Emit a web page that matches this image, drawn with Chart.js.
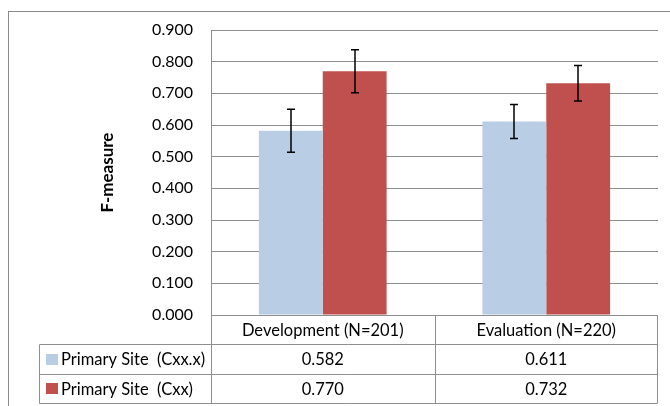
<!DOCTYPE html>
<html>
<head>
<meta charset="utf-8">
<script src="https://cdn.jsdelivr.net/npm/chart.js@4.4.0/dist/chart.umd.min.js"></script>
<style>
  html, body { margin: 0; padding: 0; background: #fff; }
</style>
</head>
<body>
<canvas id="myChart" width="670" height="406"></canvas>
<script>
// data
const categories = ['Development (N=201)', 'Evaluation (N=220)']
const seriesNames = ['Primary Site  (Cxx.x)', 'Primary Site  (Cxx)']
const siteCxxX = [0.582, 0.611]
const siteCxx = [0.770, 0.732]
const siteCxxXErr = [0.068, 0.054]
const siteCxxErr = [0.068, 0.056]
const barColors = ['#B9CDE5', '#C0504D']
const yMin = 0, yMax = 0.9, yStep = 0.1

const gridColor = '#8e8e8e'
const fontFamily = 'Lato, "Open Sans", sans-serif'
const fontSize = 16
const tableFontSize = 16.5

// outer frame + white background
const framePlugin = {
  id: 'frame',
  beforeDraw(chart) {
    const ctx = chart.ctx
    ctx.save()
    ctx.fillStyle = '#fff'
    ctx.fillRect(0, 0, chart.width, chart.height)
    ctx.strokeStyle = '#8a8a8a'
    ctx.lineWidth = 1
    ctx.strokeRect(8.5, 11.5, 800, 600)
    ctx.restore()
  }
}

// error bars, placed with the y scale
const errorBarPlugin = {
  id: 'errorBars',
  afterDatasetsDraw(chart) {
    const ctx = chart.ctx
    const y = chart.scales.y
    const errs = [siteCxxXErr, siteCxxErr]
    ctx.save()
    ctx.strokeStyle = '#000'
    ctx.lineWidth = 1.5
    chart.data.datasets.forEach((ds, i) => {
      const meta = chart.getDatasetMeta(i)
      meta.data.forEach((bar, j) => {
        const v = ds.data[j], e = errs[i][j]
        const top = y.getPixelForValue(v + e)
        const bot = y.getPixelForValue(v - e)
        const cx = Math.round(bar.x)
        ctx.beginPath()
        ctx.moveTo(cx, top); ctx.lineTo(cx, bot)
        ctx.moveTo(cx - 4, top); ctx.lineTo(cx + 4, top)
        ctx.moveTo(cx - 4, bot); ctx.lineTo(cx + 4, bot)
        ctx.stroke()
      })
    })
    ctx.restore()
  }
}

// Excel-style data table under the plot
const tablePlugin = {
  id: 'dataTable',
  afterDraw(chart) {
    const ctx = chart.ctx
    const xs = chart.scales.x
    const area = chart.chartArea
    const rowH = 29.3
    const top = area.bottom
    const left = 39.5
    const rowY = r => Math.round(top + r * rowH) + 0.5
    const mid = Math.round((xs.getPixelForValue(0) + xs.getPixelForValue(1)) / 2) + 0.5
    const l = Math.round(area.left) + 0.5, r = Math.round(area.right) - 0.5

    ctx.save()
    ctx.strokeStyle = gridColor
    ctx.lineWidth = 1
    ctx.beginPath()
    for (let k = 1; k <= 3; k++) {
      ctx.moveTo(left, rowY(k)); ctx.lineTo(r, rowY(k))
    }
    ctx.moveTo(left, rowY(1)); ctx.lineTo(left, rowY(3))
    ctx.moveTo(l, top); ctx.lineTo(l, rowY(3))
    ctx.moveTo(mid, top); ctx.lineTo(mid, rowY(3))
    ctx.moveTo(r, top); ctx.lineTo(r, rowY(3))
    ctx.stroke()

    ctx.fillStyle = '#000'
    ctx.font = tableFontSize + 'px ' + fontFamily
    ctx.textBaseline = 'middle'
    ctx.textAlign = 'center'
    categories.forEach((c, i) => {
      ctx.fillText(c, xs.getPixelForValue(i), top + rowH / 2 + 1.5)
    })
    const rows = [siteCxxX, siteCxx]
    rows.forEach((vals, k) => {
      const cy = top + rowH * (k + 1.5) + 1
      vals.forEach((v, i) => {
        ctx.textAlign = 'center'
        ctx.fillText(v.toFixed(3), xs.getPixelForValue(i), cy)
      })
      ctx.fillStyle = barColors[k]
      ctx.fillRect(46, Math.round(cy - 6), 12, 11)
      ctx.fillStyle = '#000'
      ctx.textAlign = 'left'
      ctx.fillText(seriesNames[k], 61, cy)
    })
    ctx.restore()
  }
}

const chart = new Chart('myChart', {
  type: 'bar',
  data: {
    labels: categories,
    datasets: [
      { label: seriesNames[0], data: siteCxxX, backgroundColor: barColors[0] },
      { label: seriesNames[1], data: siteCxx, backgroundColor: barColors[1] }
    ]
  },
  options: {
    responsive: false,
    animation: false,
    events: [],
    layout: { padding: { top: 30, right: 12, bottom: 0, left: 0 } },
    datasets: { bar: { categoryPercentage: 2 / 3.5, barPercentage: 1 } },
    plugins: { legend: { display: false }, tooltip: { enabled: false } },
    scales: {
      x: {
        grid: { display: false, drawTicks: false },
        border: { display: false },
        ticks: { display: false },
        afterFit(s) { s.height = 91 }
      },
      y: {
        min: yMin, max: yMax,
        grid: { color: gridColor, drawTicks: false },
        border: { display: true, color: gridColor },
        ticks: {
          stepSize: yStep, padding: 18, color: '#000',
          font: { family: fontFamily, size: fontSize },
          callback: v => v.toFixed(3)
        },
        title: {
          display: true, text: 'F-measure', color: '#000',
          font: { family: fontFamily, size: 17, weight: 'bold' },
          padding: { top: 97, bottom: 0 }
        },
        afterFit(s) { s.width = 211 }
      }
    }
  },
  plugins: [framePlugin, errorBarPlugin, tablePlugin]
})
</script>
</body>
</html>
